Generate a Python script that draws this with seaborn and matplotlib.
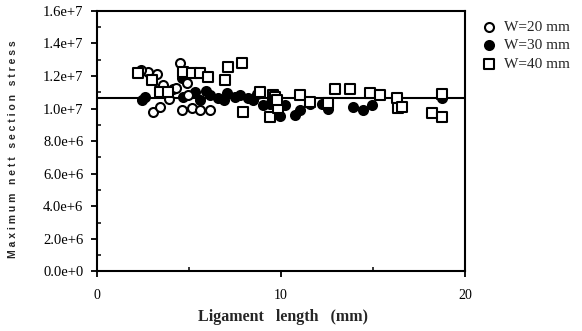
import matplotlib
matplotlib.use("Agg")
import matplotlib.pyplot as plt
import seaborn as sns
import pandas as pd

sns.set_theme(style="white")
plt.rcParams["font.family"] = ["Liberation Serif", "DejaVu Serif"]

# Ligament length (mm) and maximum nett section stress for each specimen width
w20_len = [2.77, 3.26, 4.51, 3.04, 3.42, 4.62, 5.16, 5.60, 6.14, 3.59, 4.95, 4.30, 4.90, 2.40, 3.90]
w20_stress = [12.24e6, 12.12e6, 12.79e6, 9.79e6, 10.09e6, 9.91e6, 10.03e6, 9.91e6, 9.91e6,
              11.44e6, 10.83e6, 11.26e6, 11.56e6, 12.40e6, 10.60e6]

w30_len = [2.45, 2.60, 4.67, 4.60, 5.33, 5.60, 6.14, 6.58, 7.07, 7.50, 7.77, 8.20, 8.48,
           9.02, 9.40, 9.95, 10.20, 10.76, 11.03, 11.58, 12.20, 12.55, 13.90, 14.46,
           14.95, 18.75, 4.10, 5.90, 6.90, 8.70]
w30_stress = [10.52e6, 10.70e6, 10.71e6, 11.90e6, 11.00e6, 10.52e6, 10.83e6, 10.64e6,
              10.95e6, 10.70e6, 10.83e6, 10.64e6, 10.52e6, 10.21e6, 10.30e6, 9.55e6,
              10.20e6, 9.60e6, 9.90e6, 10.27e6, 10.30e6, 10.00e6, 10.09e6, 9.91e6,
              10.20e6, 10.64e6, 11.20e6, 11.10e6, 10.50e6, 10.90e6]

w40_len = [2.23, 2.99, 4.67, 5.16, 5.60, 6.03, 7.12, 7.88, 6.96, 3.42, 3.86, 8.86, 9.57,
           7.93, 9.40, 9.84, 11.03, 11.58, 12.55, 12.93, 13.75, 14.84, 15.38, 16.30,
           16.36, 16.58, 18.75, 18.20, 18.75, 9.67, 9.78]
w40_stress = [12.18e6, 11.75e6, 12.24e6, 12.18e6, 12.18e6, 11.93e6, 12.55e6, 12.79e6,
              11.75e6, 11.00e6, 11.00e6, 11.00e6, 10.83e6, 9.79e6, 9.48e6, 10.03e6,
              10.83e6, 10.40e6, 10.34e6, 11.20e6, 11.20e6, 10.95e6, 10.83e6, 10.64e6,
              10.03e6, 10.10e6, 10.89e6, 9.72e6, 9.48e6, 10.70e6, 10.52e6]

mean_stress = 1.065e7

series_labels = ["W=20 mm", "W=30 mm", "W=40 mm"]

x_ticks = [0, 10, 20]
x_tick_labels = ["0", "10", "20"]
y_ticks = [0, 2e6, 4e6, 6e6, 8e6, 1.0e7, 1.2e7, 1.4e7, 1.6e7]
y_tick_labels = ["0.0e+0", "2.0e+6", "4.0e+6", "6.0e+6", "8.0e+6",
                 "1.0e+7", "1.2e+7", "1.4e+7", "1.6e+7"]

df = pd.concat([
    pd.DataFrame({"length": w20_len, "stress": w20_stress, "width": series_labels[0]}),
    pd.DataFrame({"length": w30_len, "stress": w30_stress, "width": series_labels[1]}),
    pd.DataFrame({"length": w40_len, "stress": w40_stress, "width": series_labels[2]}),
])

fig = plt.figure(figsize=(5.82, 3.31), dpi=100)
ax = fig.add_axes([0.167, 0.180, 0.632, 0.787])

styles = {
    series_labels[0]: dict(marker="o", facecolor="white", s=42),
    series_labels[1]: dict(marker="o", facecolor="black", s=42),
    series_labels[2]: dict(marker="s", facecolor="white", s=48),
}
# draw filled circles first so the open markers sit on top
for lab in [series_labels[1], series_labels[0], series_labels[2]]:
    st = styles[lab]
    sns.scatterplot(data=df[df["width"] == lab], x="length", y="stress", ax=ax,
                    marker=st["marker"], s=st["s"], facecolor=st["facecolor"],
                    edgecolor="black", linewidth=1.5, label=lab, zorder=3)

ax.axhline(mean_stress, color="black", lw=1.5, zorder=2)

ax.set_xlim(0, 20)
ax.set_ylim(0, 1.6e7)
ax.set_xticks(x_ticks)
ax.set_xticklabels(x_tick_labels)
ax.set_yticks(y_ticks)
ax.set_yticklabels(y_tick_labels)
ax.set_xticks([5, 15], minor=True)
ax.set_yticks([1e6, 3e6, 5e6, 7e6, 9e6, 1.1e7, 1.3e7, 1.5e7], minor=True)
ax.tick_params(axis="y", which="major", direction="out", length=4, width=1.3,
               labelsize=10.5, colors="black", pad=6)
ax.tick_params(axis="x", which="major", direction="out", length=4, width=1.3,
               labelsize=10, colors="black", pad=9)
ax.tick_params(axis="both", which="minor", direction="in", length=3, width=1.3)
ax.tick_params(axis="both", which="both", bottom=True, left=True)

for sp in ax.spines.values():
    sp.set_color("black")
    sp.set_linewidth(1.5)

ax.set_xlabel("Ligament   length   (mm)", fontsize=11.5, fontweight="bold")
ax.xaxis.set_label_coords(0.506, -0.143)
ax.set_ylabel("M a x i m u m   n e t t   s e c t i o n   s t r e s s",
              fontsize=7.5, fontweight="bold", family=["Liberation Sans", "DejaVu Sans"])
ax.yaxis.set_label_coords(-0.215, 0.47)

handles, labels = ax.get_legend_handles_labels()
order = [labels.index(l) for l in series_labels]
ax.legend([handles[i] for i in order], [labels[i] for i in order],
          loc="upper left", bbox_to_anchor=(1.02, 1.0), frameon=False,
          fontsize=11, handletextpad=0.5, labelspacing=0.32,
          borderaxespad=0.2, handlelength=1.0)

fig.savefig("out.png", dpi=100)
